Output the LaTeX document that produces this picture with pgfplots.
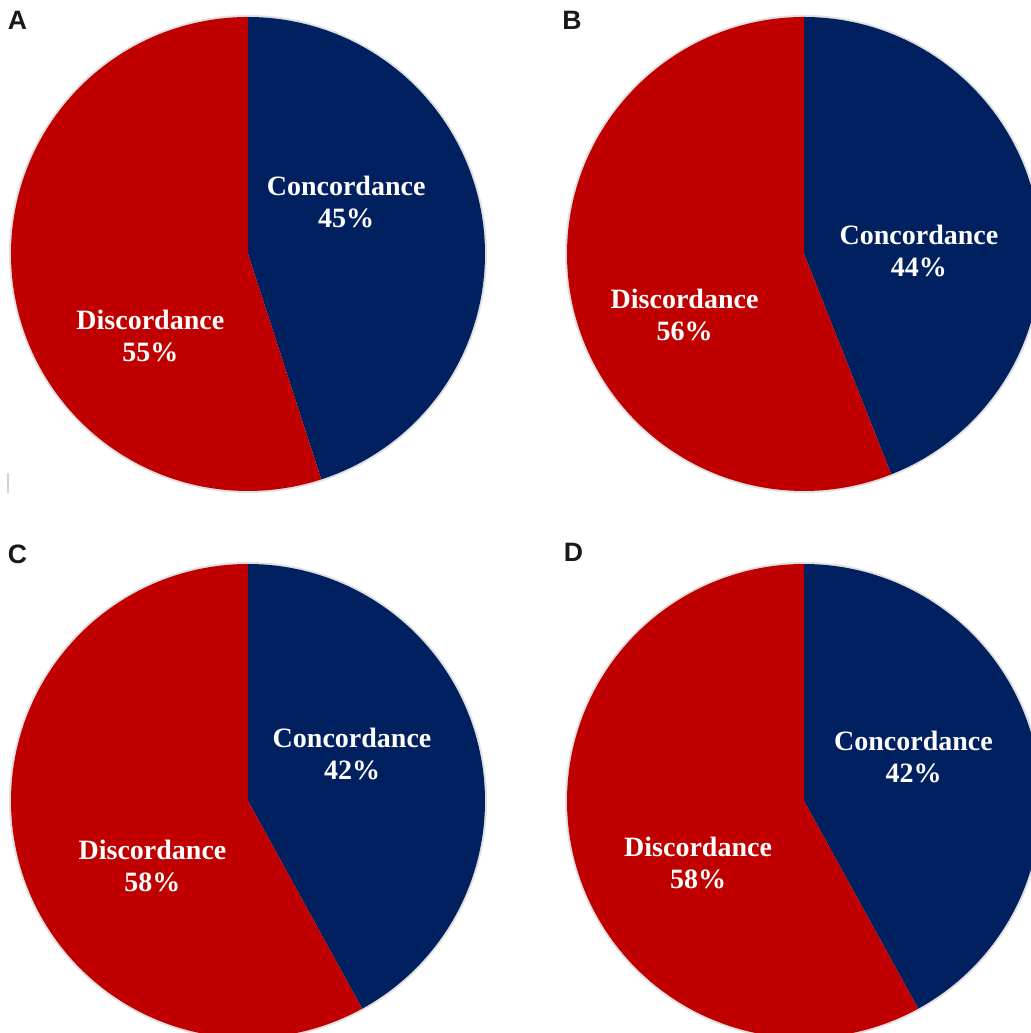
\documentclass[border=0pt]{standalone}
\usepackage{pgfplots}
\pgfplotsset{compat=1.18}
\usepackage{fontspec}
\setmainfont{Liberation Serif}
\newfontfamily\panelfont{Liberation Sans}
\definecolor{navy}{HTML}{002060}
\definecolor{pred}{HTML}{C00000}

% #1 position, #2 concordance %, #3 discordance %, #4 conc label pos, #5 disc label pos
\newcommand{\pie}[5]{%
\begin{axis}[at={#1}, anchor=center, hide axis, scale only axis,
  x=118.5pt, y=118.5pt, xmin=-1, xmax=1, ymin=-1, ymax=1, clip=false]
  \addplot[draw=black!12, line width=2pt, fill=none, domain=0:360, samples=240, variable=\t] ({cos(t)},{sin(t)});
  \addplot[fill=navy, draw=none, domain={90-3.6*#2}:90, samples=200, variable=\t] ({cos(t)},{sin(t)}) -- (axis cs:0,0) -- cycle;
  \addplot[fill=pred, draw=none, domain=-270:{90-3.6*#2}, samples=200, variable=\t] ({cos(t)},{sin(t)}) -- (axis cs:0,0) -- cycle;
  \node[text=white, font=\bfseries\fontsize{14pt}{16pt}\selectfont, align=center] at (axis cs:#4) {Concordance\\#2\%};
  \node[text=white, font=\bfseries\fontsize{14pt}{16pt}\selectfont, align=center] at (axis cs:#5) {Discordance\\#3\%};
\end{axis}}

\begin{document}
\begin{tikzpicture}
\useasboundingbox (0,0) rectangle (515.5pt,516.5pt);
\clip (0,0) rectangle (515.5pt,516.5pt);
\pie{(124pt,389.5pt)}{45}{55}{0.414,0.218}{-0.412,-0.345}
\pie{(402pt,389.5pt)}{44}{56}{0.485,0.013}{-0.504,-0.256}
\pie{(124pt,116pt)}{42}{58}{0.439,0.200}{-0.403,-0.273}
\pie{(402pt,116pt)}{42}{58}{0.462,0.185}{-0.447,-0.260}
\draw[black!18, line width=0.6pt] (4pt,280pt) -- (4pt,270pt);
\begin{scope}[every node/.style={inner sep=0pt, anchor=center, text=black!90, font=\panelfont\bfseries\fontsize{13.3pt}{15pt}\selectfont}]
\node at (8.75pt,506.25pt) {A};
\node at (286pt,506.25pt) {B};
\node at (8.75pt,239.5pt) {C};
\node at (286.75pt,240.25pt) {D};
\end{scope}
\end{tikzpicture}
\end{document}
